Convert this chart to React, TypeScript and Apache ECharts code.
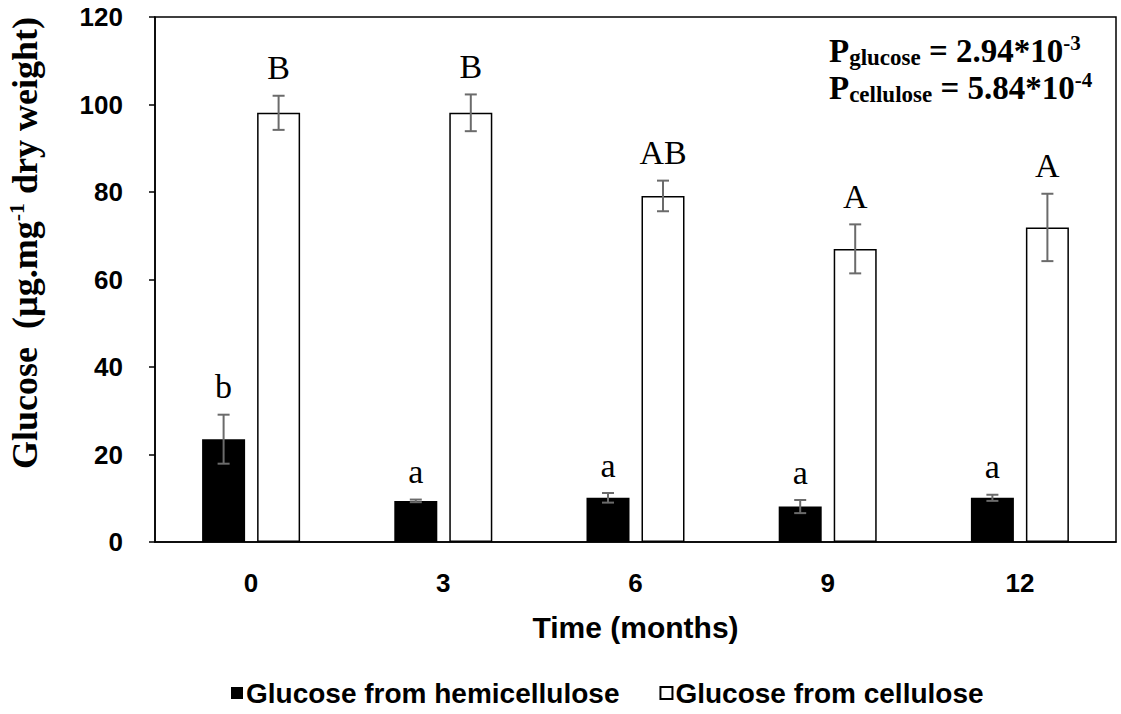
import React, { useEffect, useRef } from "react";
import * as echarts from "echarts";

const categories = ["0", "3", "6", "9", "12"];
const hemiValues = [23.5, 9.4, 10.1, 8.1, 10.1];
const hemiErrors = [5.6, 0.3, 1.1, 1.5, 0.7];
const hemiLetters = ["b", "a", "a", "a", "a"];
const celluValues = [98.1, 98.1, 79.1, 67.0, 71.9];
const celluErrors = [3.9, 4.2, 3.5, 5.6, 7.7];
const celluLetters = ["B", "B", "AB", "A", "A"];
const yTicks = { min: 0, max: 120, interval: 20 };
const seriesNames = ["Glucose from hemicellulose", "Glucose from cellulose"];

const BAR_W = 43;
const BAR_GAP_PX = 12;
const SERIF = "'Liberation Serif', 'Times New Roman', serif";
const SANS = "'Liberation Sans', Arial, sans-serif";

function errorSeries(values: number[], errors: number[], letters: string[], offset: number) {
  return {
    type: "custom",
    silent: true,
    z: 5,
    encode: { x: 0, y: 1 },
    data: values.map((v, i) => [i, v, errors[i]]),
    renderItem: (params: any, api: any) => {
      const idx = api.value(0);
      const mean = api.value(1);
      const err = api.value(2);
      const x = api.coord([idx, mean])[0] + offset;
      const yHi = api.coord([idx, mean + err])[1];
      const yLo = api.coord([idx, mean - err])[1];
      const ls = { stroke: "#6b6b6b", lineWidth: 2 };
      return {
        type: "group",
        children: [
          { type: "line", shape: { x1: x, y1: yHi, x2: x, y2: yLo }, style: ls },
          { type: "line", shape: { x1: x - 6, y1: yHi, x2: x + 6, y2: yHi }, style: ls },
          { type: "line", shape: { x1: x - 6, y1: yLo, x2: x + 6, y2: yLo }, style: ls },
          {
            type: "text",
            x: x,
            y: yHi - 11,
            style: {
              text: letters[params.dataIndex],
              fill: "#000",
              font: `34px ${SERIF}`,
              align: "center",
              verticalAlign: "bottom",
            },
          },
        ],
      };
    },
  };
}

export default function App() {
  const ref = useRef<HTMLDivElement>(null);
  useEffect(() => {
    if (!ref.current) return;
    const chart = echarts.init(ref.current, null, { renderer: "svg" });
    const offset = (BAR_W + BAR_GAP_PX) / 2;
    chart.setOption({
      animation: false,
      backgroundColor: "#fff",
      grid: {
        left: 155,
        right: 5,
        top: 17,
        bottom: 172,
        show: true,
        borderColor: "#000",
        borderWidth: 1.5,
        containLabel: false,
      },
      legend: {
        data: seriesNames,
        bottom: 2,
        left: 226,
        itemWidth: 12,
        itemHeight: 12,
        itemGap: 40,
        icon: "rect",
        textStyle: { fontFamily: SANS, fontWeight: "bold", fontSize: 28, color: "#000", padding: [0, 0, 0, -2] },
      },
      xAxis: {
        type: "category",
        data: categories,
        axisLine: { lineStyle: { color: "#000", width: 1.5 } },
        axisTick: { show: false },
        axisLabel: { fontFamily: SANS, fontWeight: "bold", fontSize: 26, color: "#000", margin: 28 },
        name: "Time (months)",
        nameLocation: "middle",
        nameGap: 70,
        nameTextStyle: { fontFamily: SANS, fontWeight: "bold", fontSize: 30, color: "#000" },
      },
      yAxis: {
        type: "value",
        min: yTicks.min,
        max: yTicks.max,
        interval: yTicks.interval,
        axisLine: { show: true, lineStyle: { color: "#000", width: 1.5 } },
        axisTick: { show: true, inside: false, length: 6, lineStyle: { color: "#000", width: 1.5 } },
        splitLine: { show: false },
        axisLabel: { fontFamily: SANS, fontWeight: "bold", fontSize: 26, color: "#000", margin: 32 },
      },
      graphic: [
        {
          type: "text",
          x: 25,
          y: 243,
          rotation: Math.PI / 2,
          style: {
            text: "{a|Glucose  (µg.mg}{sup|-1}{a| dry weight)}",
            align: "center",
            verticalAlign: "middle",
            rich: {
              a: { fontFamily: SERIF, fontWeight: "bold", fontSize: 36, lineHeight: 40, fill: "#000" },
              sup: { fontFamily: SERIF, fontWeight: "bold", fontSize: 22, lineHeight: 24, verticalAlign: "top", fill: "#000" },
            },
          },
        },
        {
          type: "text",
          left: 829,
          top: 32,
          style: {
            text:
              "{p|P}{sub|glucose}{p| = 2.94*10}{sup|-3}\n{p|P}{sub|cellulose}{p| = 5.84*10}{sup|-4}",
            rich: {
              p: { fontFamily: SERIF, fontWeight: "bold", fontSize: 33, lineHeight: 37, fill: "#000" },
              sub: { fontFamily: SERIF, fontWeight: "bold", fontSize: 23, lineHeight: 23, verticalAlign: "bottom", fill: "#000" },
              sup: { fontFamily: SERIF, fontWeight: "bold", fontSize: 21, lineHeight: 23, verticalAlign: "top", fill: "#000" },
            },
          },
        },
      ],
      series: [
        {
          name: seriesNames[0],
          type: "bar",
          data: hemiValues,
          barWidth: BAR_W,
          barGap: `${(BAR_GAP_PX / BAR_W) * 100}%`,
          itemStyle: { color: "#000" },
        },
        {
          name: seriesNames[1],
          type: "bar",
          data: celluValues,
          barWidth: BAR_W,
          itemStyle: { color: "#fff", borderColor: "#000", borderWidth: 1.5 },
        },
        errorSeries(hemiValues, hemiErrors, hemiLetters, -offset),
        errorSeries(celluValues, celluErrors, celluLetters, offset),
      ],
    });
    return () => chart.dispose();
  }, []);
  return (
    <div
      ref={ref}
      style={{ position: "fixed", left: 0, top: 0, width: 1121, height: 714, background: "#fff" }}
    />
  );
}
